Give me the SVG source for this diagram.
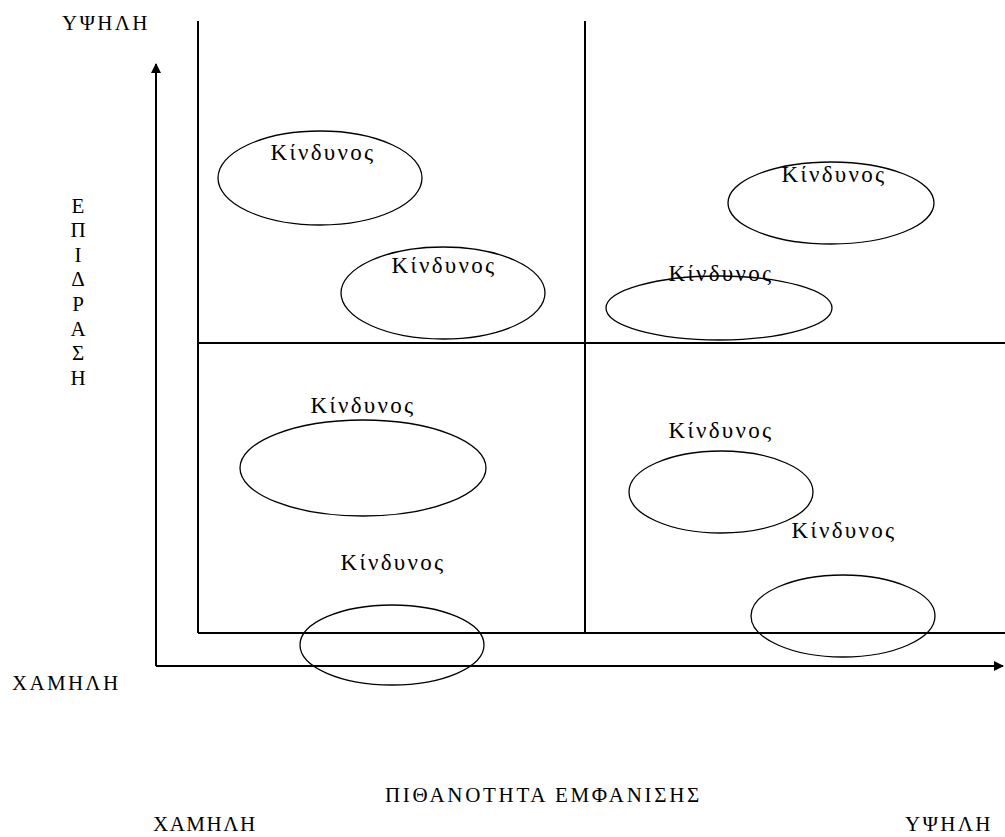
<svg xmlns="http://www.w3.org/2000/svg" width="1005" height="837" viewBox="0 0 1005 837">
<style>
text{font-family:"Liberation Serif","Times New Roman",serif;fill:#000}
.lbl{font-size:23px;letter-spacing:2.3px;text-anchor:middle}
.ax{font-size:21px;letter-spacing:2.3px}
.v{font-size:21px;text-anchor:middle}
.grid{stroke:#000;stroke-width:2;fill:none}
.axis{stroke:#000;stroke-width:2;fill:none}
ellipse{fill:none;stroke:#000;stroke-width:1.3}
</style>
<defs>
<marker id="ah" viewBox="0 0 10 10" refX="9" refY="5" markerWidth="5" markerHeight="5" orient="auto" markerUnits="strokeWidth">
<path d="M0,0 L10,5 L0,10 z" fill="#000"/>
</marker>
</defs>
<rect width="1005" height="837" fill="#fff"/>
<g id="connectors">
<line class="grid" x1="198" y1="21" x2="198" y2="633"/>
<line class="grid" x1="585" y1="21" x2="585" y2="633"/>
<line class="grid" x1="198" y1="343" x2="1005" y2="343"/>
<line class="grid" x1="198" y1="633" x2="1005" y2="633"/>
<line class="axis" x1="156" y1="666" x2="156" y2="64" marker-end="url(#ah)"/>
<line class="axis" x1="156" y1="666" x2="1003" y2="666" marker-end="url(#ah)"/>
</g>
<g id="labels">
<text class="ax" x="62" y="30">ΥΨΗΛΗ</text>
<text class="ax" x="12" y="690">ΧΑΜΗΛΗ</text>
<text class="v" x="78" y="213">Ε</text>
<text class="v" x="78" y="237">Π</text>
<text class="v" x="78" y="262">Ι</text>
<text class="v" x="78" y="286">Δ</text>
<text class="v" x="78" y="311">Ρ</text>
<text class="v" x="78" y="336">Α</text>
<text class="v" x="78" y="360">Σ</text>
<text class="v" x="78" y="385">Η</text>
<text class="ax" x="385" y="802" style="letter-spacing:2.7px">ΠΙΘΑΝΟΤΗΤΑ  ΕΜΦΑΝΙΣΗΣ</text>
<text class="ax" x="153" y="831" style="letter-spacing:1.5px">ΧΑΜΗΛΗ</text>
<text class="ax" x="905" y="831">ΥΨΗΛΗ</text>
</g>
<g id="risk1"><ellipse cx="320" cy="178" rx="102" ry="47"/><text class="lbl" x="323" y="160">Κίνδυνος</text></g>
<g id="risk2"><ellipse cx="443" cy="293" rx="102" ry="46"/><text class="lbl" x="444" y="273">Κίνδυνος</text></g>
<g id="risk3"><ellipse cx="831" cy="203" rx="103" ry="41"/><text class="lbl" x="834" y="182">Κίνδυνος</text></g>
<g id="risk4"><ellipse cx="719" cy="308" rx="113" ry="32"/><text class="lbl" x="721" y="281">Κίνδυνος</text></g>
<g id="risk5"><ellipse cx="363" cy="468" rx="123" ry="48"/><text class="lbl" x="363" y="413">Κίνδυνος</text></g>
<g id="risk6"><ellipse cx="392" cy="645" rx="92" ry="40"/><text class="lbl" x="393" y="570">Κίνδυνος</text></g>
<g id="risk7"><ellipse cx="721" cy="492" rx="92" ry="41"/><text class="lbl" x="721" y="438">Κίνδυνος</text></g>
<g id="risk8"><ellipse cx="843" cy="616" rx="92" ry="41"/><text class="lbl" x="844" y="538">Κίνδυνος</text></g>
</svg>
